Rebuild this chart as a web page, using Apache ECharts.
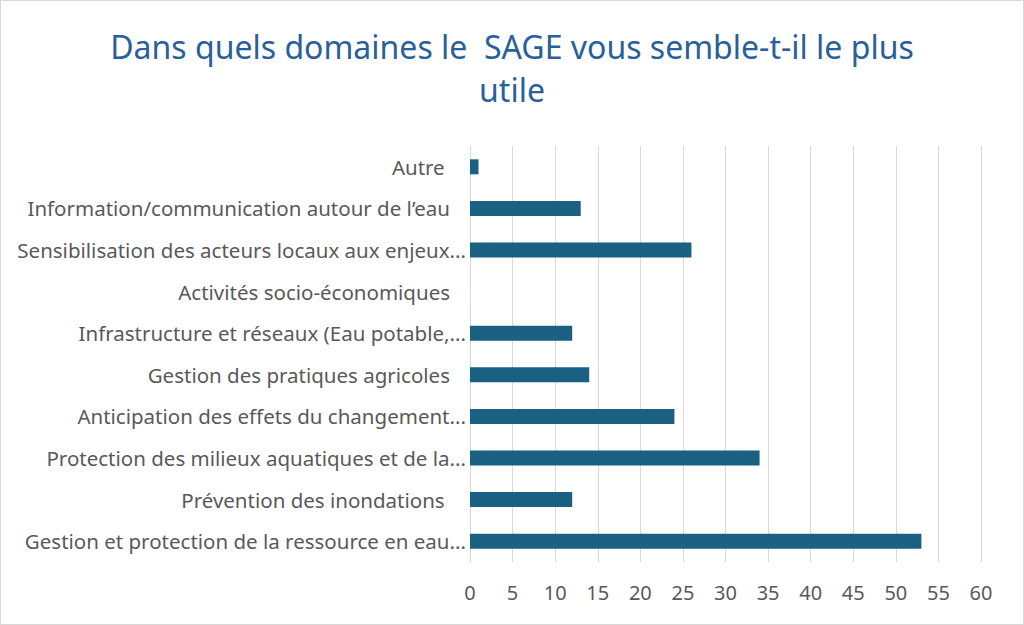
<!DOCTYPE html>
<html>
<head>
<meta charset="utf-8">
<script src="https://cdn.jsdelivr.net/npm/echarts@6/dist/echarts.min.js"></script>
<style>
  html, body { margin: 0; padding: 0; background: #fff; }
  #chart { width: 1022px; height: 623px; border: 1px solid #d9d9d9; }
</style>
</head>
<body>
<div id="chart"></div>
<script>
const chart = echarts.init(document.getElementById('chart'), null, { renderer: 'svg' });

// Données (de bas en haut)
const categories = [
    'Gestion et protection de la ressource en eau...',
    'Prévention des inondations\u00a0\u00a0\u00a0\u00a0',
    'Protection des milieux aquatiques et de la...',
    'Anticipation des effets du changement...',
    'Gestion des pratiques agricoles\u00a0\u00a0\u00a0',
    'Infrastructure et réseaux (Eau potable,...',
    'Activités socio-économiques\u00a0\u00a0\u00a0',
    'Sensibilisation des acteurs locaux aux enjeux...',
    'Information/communication autour de l\u2019eau\u00a0\u00a0\u00a0',
    'Autre\u00a0\u00a0\u00a0\u00a0'
];
const values = [53, 12, 34, 24, 14, 12, 0, 26, 13, 1];
const xTicks = { min: 0, max: 60, interval: 5 };
const titleLines = ['Dans quels domaines le  SAGE vous semble-t-il le plus', 'utile'];

const titleStyle = {
    color: '#2a6099',
    fontFamily: 'Noto Sans',
    fontWeight: 'normal',
    fontSize: 32
};

chart.setOption({
    title: [
        { text: titleLines[0], left: 'center', top: 24, textStyle: titleStyle },
        { text: titleLines[1], left: 'center', top: 67, textStyle: titleStyle }
    ],
    grid: {
        left: 469,
        right: 42,
        top: 145,
        bottom: 62,
        containLabel: false
    },
    xAxis: {
        type: 'value',
        min: xTicks.min,
        max: xTicks.max,
        interval: xTicks.interval,
        axisLine: { show: false },
        axisTick: { show: false },
        axisLabel: {
            color: '#595959',
            fontFamily: 'Noto Sans',
            fontSize: 20,
            margin: 20
        },
        splitLine: { lineStyle: { color: '#d9d9d9', width: 1 } }
    },
    yAxis: {
        type: 'category',
        data: categories,
        axisLine: { lineStyle: { color: '#d9d9d9' } },
        axisTick: { show: false },
        axisLabel: {
            color: '#595959',
            fontFamily: 'Noto Sans',
            fontSize: 20.5,
            margin: 4
        }
    },
    series: [{
        type: 'bar',
        data: values,
        barWidth: 15,
        itemStyle: { color: '#196083' }
    }]
});
</script>
</body>
</html>
